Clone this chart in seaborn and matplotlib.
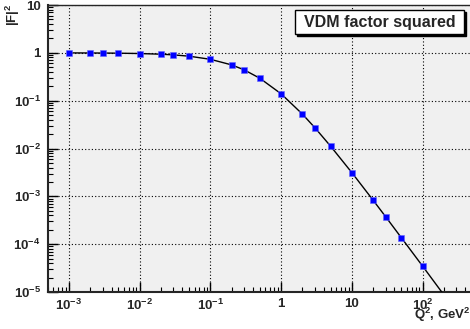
"""VDM form factor squared vs Q^2, ROOT-style log-log plot."""

import matplotlib

matplotlib.use("Agg")

import matplotlib.patches as mpatches
import matplotlib.pyplot as plt
import seaborn as sns
from matplotlib.ticker import FixedLocator, LogLocator, NullFormatter

# points (Q^2 in GeV^2, |F|^2)
q2_points = [0.001, 0.002, 0.003, 0.005, 0.01, 0.02, 0.03, 0.05, 0.1, 0.2, 0.3,
             0.5, 1, 2, 3, 5, 10, 20, 30, 50, 100]
f2_points = [0.997, 0.993, 0.990, 0.983, 0.967, 0.936, 0.906, 0.851, 0.732,
             0.559, 0.441, 0.294, 0.139, 0.0523, 0.0272, 0.0112, 0.00313,
             0.000829, 0.000376, 0.000137, 3.48e-5]

# the curve runs on past the last marker down to the frame
q2_curve = q2_points + [200]
f2_curve = f2_points + [8.7e-6]

x_ticks = [1e-3, 1e-2, 1e-1, 1, 10, 100]
x_labels = ["$10^{-3}$", "$10^{-2}$", "$10^{-1}$", "1", "10", "$10^{2}$"]
y_ticks = [1e-5, 1e-4, 1e-3, 1e-2, 1e-1, 1, 10]
y_labels = ["$10^{-5}$", "$10^{-4}$", "$10^{-3}$", "$10^{-2}$", "$10^{-1}$", "1", "10"]

sns.set_style("ticks")
plt.rcParams["font.family"] = ["Liberation Sans", "DejaVu Sans"]
plt.rcParams["font.weight"] = "bold"
plt.rcParams["mathtext.fontset"] = "custom"
plt.rcParams["mathtext.rm"] = "Liberation Sans:bold"
plt.rcParams["mathtext.it"] = "Liberation Sans:bold"
plt.rcParams["mathtext.bf"] = "Liberation Sans:bold"
plt.rcParams["mathtext.default"] = "rm"

W, H = 470, 329
fig = plt.figure(figsize=(W / 100, H / 100), dpi=100)
fig.patch.set_facecolor("white")
ax = fig.add_axes([47.7 / W, 1 - 292 / H, 424.3 / W, 287 / H])
ax.set_facecolor("#f0f0f0")

sns.lineplot(x=q2_curve, y=f2_curve, ax=ax, color="black", linewidth=1.0,
             sort=False, zorder=3)
sns.scatterplot(x=q2_points, y=f2_points, ax=ax, marker="s", color="#0000ff",
                s=24, edgecolor="#6666ff", linewidth=0.4, zorder=4)

ax.set_xscale("log")
ax.set_yscale("log")
ax.set_xlim(5e-4, 500)
ax.set_ylim(1e-5, 10)

ax.xaxis.set_major_locator(FixedLocator(x_ticks))
ax.set_xticklabels(x_labels)
ax.yaxis.set_major_locator(FixedLocator(y_ticks))
ax.set_yticklabels(y_labels)
ax.xaxis.set_minor_locator(LogLocator(base=10, subs=range(2, 10), numticks=20))
ax.yaxis.set_minor_locator(LogLocator(base=10, subs=range(2, 10), numticks=20))
ax.xaxis.set_minor_formatter(NullFormatter())
ax.yaxis.set_minor_formatter(NullFormatter())

ax.tick_params(which="major", direction="in", length=7, width=1.0,
               labelsize=9.5, pad=5, color="black")
ax.tick_params(axis="x", which="major", pad=4)
ax.tick_params(which="minor", direction="in", length=3.5, width=0.8, color="black")
ax.tick_params(top=False, right=False, which="both")

ax.grid(True, which="major", color="black", linestyle=(0, (1, 2)), linewidth=0.8)
ax.set_axisbelow(True)
for side in ["left", "bottom"]:
    ax.spines[side].set_linewidth(1.5)
for side in ["top", "right"]:
    ax.spines[side].set_linewidth(1.0)

ax.set_xlabel("")
ax.set_ylabel("")
fig.text(13 / W, 1 - 3 / H, r"$|F|^{2}$", rotation=90, ha="center", va="top",
         fontsize=9.5)
fig.text(471 / W, 1 - 315 / H, r"$Q^{2}$, GeV$^{2}$", ha="right", va="center",
         fontsize=9.5)

# legend-like title box with ROOT drop shadow
bx0, by0, bw, bh = 295, 10, 169, 24
shadow = mpatches.Rectangle(((bx0 + 2) / W, 1 - (by0 + bh + 2) / H), bw / W, bh / H,
                            transform=fig.transFigure, facecolor="black",
                            edgecolor="black", zorder=10)
box = mpatches.Rectangle((bx0 / W, 1 - (by0 + bh) / H), bw / W, bh / H,
                         transform=fig.transFigure, facecolor="white",
                         edgecolor="black", linewidth=1.0, zorder=11)
fig.patches.extend([shadow, box])
fig.text((bx0 + bw / 2) / W, 1 - (by0 + bh / 2) / H, "VDM factor squared",
         ha="center", va="center", fontsize=11.5, fontweight="bold", zorder=12)

fig.savefig("out.png", dpi=100)
